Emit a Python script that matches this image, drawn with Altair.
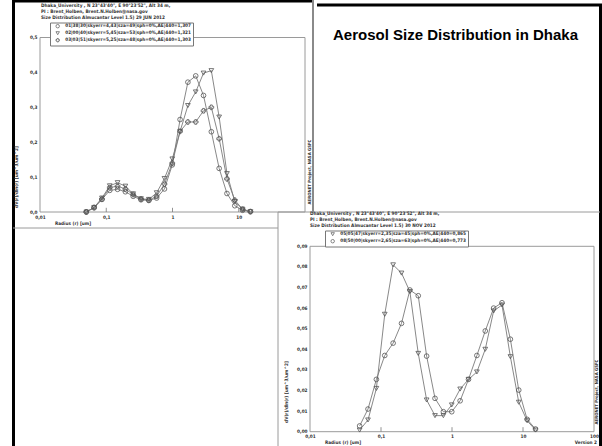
import altair as alt
import pandas as pd

# ---------------- data ----------------
radius = [0.05, 0.065604, 0.086077, 0.112939, 0.148184, 0.194429, 0.255105,
          0.334716, 0.439173, 0.576227, 0.756052, 0.991996, 1.301571, 1.707757,
          2.240702, 2.939966, 3.857452, 5.061260, 6.640745, 8.713145, 11.432287, 15.0]

jun_circle = [0.000, 0.012, 0.036, 0.062, 0.065, 0.058, 0.045, 0.035, 0.033, 0.040, 0.066,
              0.135, 0.265, 0.372, 0.390, 0.334, 0.230, 0.125, 0.053, 0.018, 0.005, 0.001]
jun_triangle = [0.000, 0.013, 0.040, 0.075, 0.084, 0.074, 0.052, 0.038, 0.036, 0.055, 0.096,
                0.152, 0.231, 0.305, 0.344, 0.398, 0.405, 0.272, 0.110, 0.030, 0.008, 0.001]
jun_third = [0.000, 0.013, 0.037, 0.070, 0.074, 0.066, 0.050, 0.037, 0.034, 0.045, 0.080,
             0.140, 0.231, 0.258, 0.258, 0.290, 0.300, 0.210, 0.095, 0.034, 0.008, 0.001]

nov_triangle = [0.0008, 0.0057, 0.021, 0.057, 0.081, 0.077, 0.068, 0.038, 0.0154, 0.0078, 0.0078,
                0.013, 0.0207, 0.0254, 0.029, 0.040, 0.0586, 0.0615, 0.0364, 0.0143, 0.0053, 0.0008]
nov_circle = [0.0028, 0.011, 0.0254, 0.037, 0.043, 0.0526, 0.0688, 0.066, 0.0367, 0.0162, 0.0097,
              0.0097, 0.015, 0.0254, 0.037, 0.0489, 0.060, 0.0626, 0.0449, 0.0202, 0.006, 0.0013]

jun_names = ["01|38|30|skyerr=4,43|sza=49|sph=0%,AE|440=1,307",
             "02|00|40|skyerr=5,45|sza=53|sph=0%,AE|440=1,321",
             "03|03|51|skyerr=5,25|sza=48|sph=0%,AE|440=1,303"]
nov_names = ["05|05|47|skyerr=2,35|sza=45|sph=0%,AE|440=0,865",
             "08|50|00|skyerr=2,65|sza=63|sph=0%,AE|440=0,773"]

jun_x_ticks = [0.01, 0.1, 1, 10]
nov_x_ticks = [0.01, 0.1, 1, 10, 100]
inner_ticks = [0.1, 1, 10]
jun_y_ticks = [0.0, 0.1, 0.2, 0.3, 0.4, 0.5]
nov_y_ticks = [0.0, 0.01, 0.02, 0.03, 0.04, 0.05, 0.06, 0.07, 0.08, 0.09]

header_jun = ["Dhaka_University , N 23\u00b043'40\", E 90\u00b023'52\", Alt 34 m,",
              "PI : Brent_Holben, Brent.N.Holben@nasa.gov",
              "Size Distribution Almucantar Level 1.5) 29 JUN 2012"]
header_nov = ["Dhaka_University , N 23\u00b043'40\", E 90\u00b023'52\", Alt 34 m,",
              "PI : Brent_Holben, Brent.N.Holben@nasa.gov",
              "Size Distribution Almucantar Level 1.5) 30 NOV 2012"]
slide_title = ["Aerosol Size Distribution in Dhaka"]
y_title = ["dV(r)/dln(r) [um^3/um^2]"]
x_title = ["Radius (r) [um]"]
credit = ["AERONET Project, NASA GSFC"]
version = ["Version 2"]

SMALL = "DejaVu Sans Condensed, Liberation Sans Narrow, Liberation Sans, sans-serif"
TITLEF = "Liberation Sans Narrow, Liberation Sans, Arial, sans-serif"
FS = 4.7
TXT = "#333333"

jun_df = pd.DataFrame({
    "r": radius * 3,
    "v": jun_circle + jun_triangle + jun_third,
    "s": [jun_names[0]] * 22 + [jun_names[1]] * 22 + [jun_names[2]] * 22,
})
nov_df = pd.DataFrame({
    "r": radius * 2,
    "v": nov_triangle + nov_circle,
    "s": [nov_names[0]] * 22 + [nov_names[1]] * 22,
})


def legend(x, y):
    return alt.Legend(title=None, orient="none", legendX=x, legendY=y,
                      strokeColor="#777777", fillColor="white", padding=1.2,
                      labelFont=SMALL, labelFontSize=FS, labelFontWeight="bold",
                      labelColor=TXT, symbolSize=12, symbolStrokeWidth=0.7,
                      symbolStrokeColor="#555555", symbolFillColor="white",
                      rowPadding=0, labelOffset=5, symbolOffset=4, labelLimit=400)


def axis_x(offset, vals):
    return alt.Axis(values=vals, labelExpr="replace(toString(datum.value), '.', ',')",
                    orient="bottom", offset=offset, domain=False, ticks=False, grid=False,
                    title=None, labelFont=SMALL, labelFontSize=FS, labelFontWeight="bold",
                    labelColor=TXT, labelPadding=2, labelFlush=False, labelOverlap=False)


def axis_y(offset, fmt, vals):
    return alt.Axis(values=vals, labelExpr="replace(format(datum.value, '" + fmt + "'), '.', ',')",
                    orient="left", offset=offset, domain=False, ticks=False, grid=False,
                    title=None, labelFont=SMALL, labelFontSize=FS, labelFontWeight="bold",
                    labelColor=TXT, labelPadding=3, labelOverlap=False)


def plot_panel(df, names, shapes, xr, yr, ydom, xoff, xvals, yoff, fmt, yvals, leg_xy, tick_h):
    xs = alt.Scale(type="log", domain=[0.01, 100], range=xr)
    ys = alt.Scale(domain=ydom, range=yr)
    frame_df = pd.DataFrame({"x": [0.01], "x2": [100], "y": [ydom[0]], "y2": [ydom[1]]})
    frame = alt.Chart(frame_df).mark_rect(fillOpacity=0, stroke="#9a9a9a", strokeWidth=1).encode(
        x=alt.X("x:Q", scale=xs, axis=axis_x(xoff, xvals)),
        x2="x2:Q",
        y=alt.Y("y:Q", scale=ys, axis=axis_y(yoff, fmt, yvals)),
        y2="y2:Q",
    )
    tdf = pd.DataFrame({"x": inner_ticks, "y": [ydom[0]] * 3, "y2": [tick_h] * 3})
    ticks = alt.Chart(tdf).mark_rule(color="#777777", strokeWidth=0.8).encode(
        x=alt.X("x:Q", scale=xs), y=alt.Y("y:Q", scale=ys), y2="y2:Q")
    lines = alt.Chart(df).mark_line(color="#7a7a7a", strokeWidth=0.9).encode(
        x=alt.X("r:Q", scale=xs), y=alt.Y("v:Q", scale=ys), detail="s:N")
    pts = alt.Chart(df).mark_point(filled=False, color="#555555", size=22, strokeWidth=0.8, opacity=1).encode(
        x=alt.X("r:Q", scale=xs), y=alt.Y("v:Q", scale=ys),
        shape=alt.Shape("s:N", scale=alt.Scale(domain=names, range=shapes),
                        legend=legend(*leg_xy)))
    return alt.layer(frame, ticks, lines, pts)


left = plot_panel(jun_df, jun_names, ["circle", "triangle-down", "cross"],
                  [40, 305], [212, 37.5], [0, 0.5], -234, jun_x_ticks, -40, ".1f", jun_y_ticks,
                  (50, 22.5), 0.012)
right = plot_panel(nov_df, nov_names, ["triangle-down", "circle"],
                   [310, 594], [431.7, 246.3], [0, 0.09], -14.3, nov_x_ticks, -310, ".2f", nov_y_ticks,
                   (325, 230.5), 0.0022)


def text(s, x, y, size=FS, font=SMALL, color=TXT, angle=0, align="left", weight="bold"):
    d = pd.DataFrame({"t": [s]})
    return alt.Chart(d).mark_text(x=x, y=y, align=align, baseline="middle", fontSize=size, font=font,
                                  fontWeight=weight, color=color, angle=angle).encode(text="t:N")


def rule(x, y, x2, y2, color, w):
    d = pd.DataFrame({"k": [0]})
    return alt.Chart(d).mark_rule(color=color, strokeWidth=w).encode(
        x=alt.value(x), y=alt.value(y), x2=alt.value(x2), y2=alt.value(y2))


frame_lines = [
    rule(13.5, 0, 13.5, 446, "black", 3),
    rule(13, 1.2, 312, 1.2, "black", 2.5),
    rule(313, 0, 313, 212, "#8a8a8a", 2),
    rule(317, 5, 602, 5, "black", 3),
    rule(600.5, 5, 600.5, 446, "black", 3),
    rule(13, 228, 278, 228, "#9a9a9a", 1),
    rule(278, 212, 600, 212, "#9a9a9a", 1),
    rule(278, 212, 278, 446, "#9a9a9a", 1),
]

texts = [text(s, 41, 5.5 + 6 * i) for i, s in enumerate(header_jun)]
texts += [text(s, 310, 214 + 6 * i) for i, s in enumerate(header_nov)]
texts += [
    text(x_title[0], 55, 224),
    text(x_title[0], 325, 443),
    text(version[0], 597, 443, align="right"),
    text(y_title[0], 17, 177, angle=270, align="center"),
    text(y_title[0], 287, 392, angle=270, align="center"),
    text(credit[0], 310, 172, angle=270, align="center", size=4.3),
    text(credit[0], 597, 392, angle=270, align="center", size=4.3),
    text(slide_title[0], 333, 35, size=15, font=TITLEF, color="black"),
]

chart = alt.layer(*frame_lines, left, right, *texts).resolve_scale(
    x="independent", y="independent", shape="independent"
).resolve_legend(shape="independent").properties(
    width=602, height=446, autosize=alt.AutoSizeParams(type="none"), padding=0,
    background="white"
).configure_view(stroke=None)

chart.save("out.html", embed_options={"renderer": "svg", "actions": False})
